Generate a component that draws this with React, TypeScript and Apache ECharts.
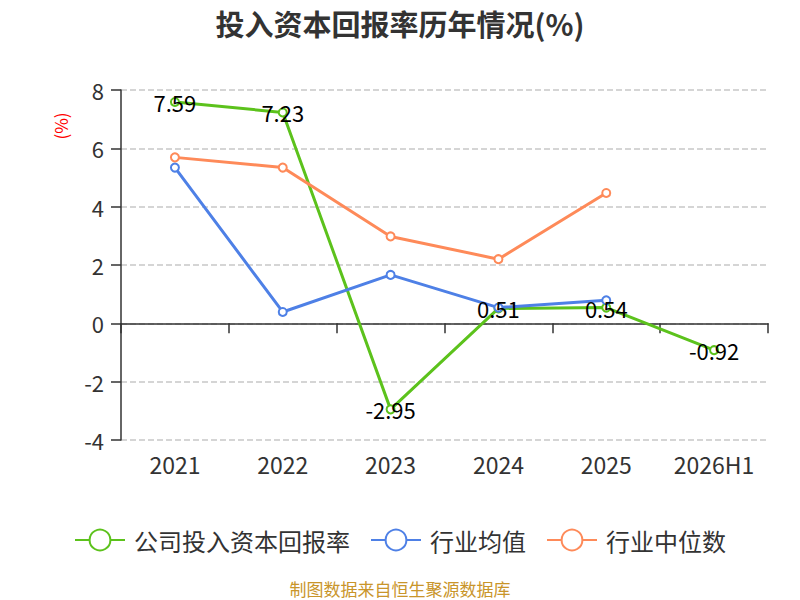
import { useEffect, useRef } from 'react';
import * as echarts from 'echarts';

const years = ['2021', '2022', '2023', '2024', '2025', '2026H1'];
const companyRoic = [7.59, 7.23, -2.95, 0.51, 0.54, -0.92];
const industryAvg = [5.34, 0.39, 1.66, 0.54, 0.79, null];
const industryMedian = [5.69, 5.34, 2.98, 2.2, 4.47, null];

const FONT = '"Noto Sans CJK SC", "Noto Sans", sans-serif';

export default function App() {
  const chartRef = useRef<HTMLDivElement>(null);

  useEffect(() => {
    if (!chartRef.current) return;
    const chart = echarts.init(chartRef.current, null, { renderer: 'svg' });

    const lineSeries = (name: string, data: (number | null)[], color: string, withLabel: boolean) => ({
      name,
      type: 'line',
      data,
      symbol: 'emptyCircle',
      symbolSize: 8,
      lineStyle: { color, width: 3 },
      itemStyle: { color, borderWidth: 1.5 },
      label: withLabel
        ? { show: true, position: 'inside', color: '#000', fontSize: 22, fontFamily: FONT }
        : { show: false },
    });

    const option = {
      animation: false,
      textStyle: { fontFamily: FONT },
      title: {
        text: '投入资本回报率历年情况(%)',
        left: 'center',
        top: 3,
        textStyle: { fontSize: 29, fontWeight: 'bold', color: '#333', fontFamily: FONT },
      },
      grid: { left: 121, right: 32, top: 90, bottom: 160, containLabel: false },
      legend: {
        top: 523,
        left: 'center',
        itemWidth: 50,
        itemHeight: 26,
        itemGap: 20,
        textStyle: { fontSize: 24, color: '#333', fontFamily: FONT, padding: [0, 0, 0, 4] },
        data: ['公司投入资本回报率', '行业均值', '行业中位数'],
      },
      graphic: [
        {
          type: 'text',
          x: 60,
          y: 126,
          rotation: Math.PI / 2,
          style: {
            text: '(%)',
            fill: '#ff0000',
            fontSize: 17,
            fontFamily: FONT,
            align: 'center',
            verticalAlign: 'middle',
          },
        },
        {
          type: 'text',
          x: 400,
          y: 588,
          style: {
            text: '制图数据来自恒生聚源数据库',
            fill: '#c9952a',
            fontSize: 17,
            fontFamily: FONT,
            align: 'center',
            verticalAlign: 'middle',
          },
        },
      ],
      xAxis: {
        type: 'category',
        data: years,
        boundaryGap: true,
        axisLine: { onZero: true, lineStyle: { color: '#333', width: 1.5 } },
        axisTick: { show: true, length: 10, lineStyle: { color: '#333', width: 1.5 } },
        axisLabel: { color: '#333', fontSize: 23, margin: 12, interval: 0, fontFamily: FONT },
      },
      yAxis: {
        type: 'value',
        min: -4,
        max: 8,
        interval: 2,
        axisLine: { show: true, lineStyle: { color: '#333', width: 1.5 } },
        axisTick: { show: true, length: 10, lineStyle: { color: '#333', width: 1.5 } },
        axisLabel: { color: '#333', fontSize: 22, margin: 17, fontFamily: FONT },
        splitLine: { lineStyle: { type: 'dashed', color: '#c8c8c8', width: 1.5 } },
      },
      series: [
        lineSeries('公司投入资本回报率', companyRoic, '#5cc21c', true),
        lineSeries('行业均值', industryAvg, '#4e80e6', false),
        lineSeries('行业中位数', industryMedian, '#fe8a59', false),
      ],
    };

    chart.setOption(option as any);
    return () => chart.dispose();
  }, []);

  return <div ref={chartRef} style={{ width: 800, height: 600, position: 'absolute', left: 0, top: 0 }} />;
}
